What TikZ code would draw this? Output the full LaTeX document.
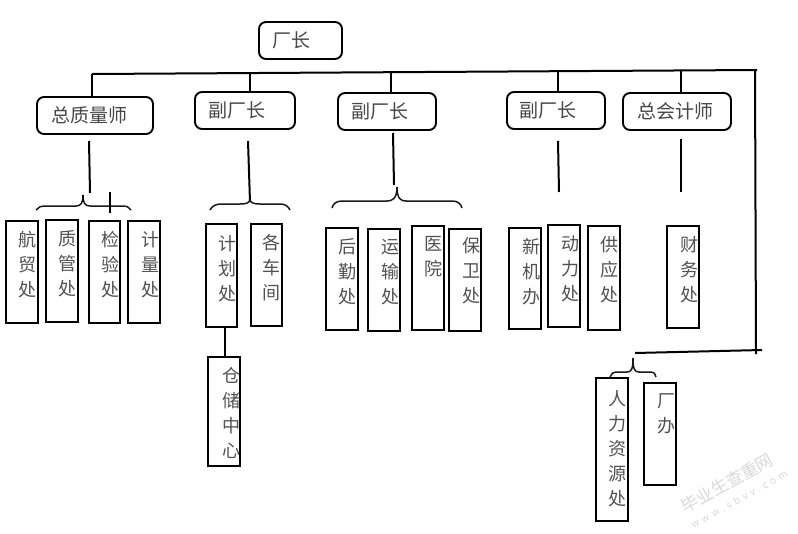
\documentclass[tikz,border=0pt]{standalone}
\usepackage{fontspec}
\setmainfont{Noto Sans CJK SC}
\tikzset{
 lead/.style={draw=black,line width=1.9pt,rounded corners=7pt,inner sep=0pt,outer sep=0pt,font=\fontsize{19}{22}\selectfont,text=black!72},
 unit/.style={draw=black,line width=2pt,inner sep=0pt,outer sep=0pt,anchor=north west},
 unittext/.style={font=\fontsize{18}{25}\selectfont,text=black!68,align=center,anchor=north,inner sep=0pt},
 conn/.style={line width=2pt,draw=black},
 brace/.style={line width=1.5pt,draw=black!90},
 mark1/.style={rotate=29,text=black!15,inner sep=0pt}
}
\newcommand{\rbox}[7]{\node[lead,minimum width=#4pt-#2pt,minimum height=#5pt-#3pt] (#1) at ({(#2+#4)/2},{(#3+#5)/2}) {\hspace*{#6pt}#7};}
\newcommand{\ubox}[8]{\node[unit,minimum width=#4pt-#2pt,minimum height=#5pt-#3pt] (#1) at (#2,#3) {};
 \node[unittext] (#1t) at (#6,#3+#7) {#8};}
\begin{document}
\begin{tikzpicture}[x=1pt,y=-1pt]
\useasboundingbox[fill=white] (0,0) rectangle (798,533);
\rbox{top}{259}{22}{342}{59}{-18}{厂长}
\rbox{a}{37}{97}{153}{134}{-12}{总质量师}
\rbox{b}{195}{92}{295}{129}{-16}{副厂长}
\rbox{c}{338}{93}{436}{130}{-14}{副厂长}
\rbox{d}{507}{92}{605}{129}{-16}{副厂长}
\rbox{e}{623}{93}{731}{130}{-4}{总会计师}
\ubox{a1}{6}{221}{38}{323}{27}{10}{航\\贸\\处}
\ubox{a2}{46}{220}{78}{322}{67}{10}{质\\管\\处}
\ubox{a3}{89}{221}{120}{323}{110}{10}{检\\验\\处}
\ubox{a4}{128}{221}{160}{323}{150}{10}{计\\量\\处}
\ubox{b1}{206}{224}{237}{327}{227}{11}{计\\划\\处}
\ubox{b2}{251}{224}{282}{326}{271}{10}{各\\车\\间}
\ubox{b3}{208}{357}{240}{466}{231}{10}{仓\\储\\中\\心}
\ubox{c1}{326}{228}{358}{330}{347}{10}{后\\勤\\处}
\ubox{c2}{368}{229}{400}{331}{390}{10}{运\\输\\处}
\ubox{c3}{412}{226}{444}{330}{433}{10}{医\\院}
\ubox{c4}{449}{229}{481}{331}{471}{8}{保\\卫\\处}
\ubox{d1}{509}{228}{541}{329}{531}{10}{新\\机\\办}
\ubox{d2}{548}{225}{580}{327}{570}{10}{动\\力\\处}
\ubox{d3}{588}{226}{620}{330}{609}{10}{供\\应\\处}
\ubox{e1}{667}{226}{699}{328}{689}{10}{财\\务\\处}
\ubox{f1}{596}{378}{628}{521}{617}{12}{人\\力\\资\\源\\处}
\ubox{f2}{644}{383}{676}{485}{666}{10}{厂\\办}
% bus and free ends
\coordinate (L) at (92,74); \coordinate (R) at (757,70);
\coordinate (bT) at (250,73.5); \coordinate (cT) at (391,73); \coordinate (dT) at (558,72); \coordinate (eT) at (681,71);
\coordinate (Vt) at (755,70); \coordinate (Vb) at (756,354);
\coordinate (Bl) at (635,353); \coordinate (Br) at (762,350);
\coordinate (As) at (89,141); \coordinate (Ra) at (90,193);
\coordinate (Bs) at (248,141); \coordinate (Rb) at (250,202);
\coordinate (Cs) at (393,133); \coordinate (Rc) at (394,185);
\coordinate (Ds) at (558,141); \coordinate (Rd) at (559,192);
\coordinate (Es) at (681,139); \coordinate (Re) at (681,192);
\draw[conn] (L) -- (R);
\draw[conn] (L) -- (L |- a.north);
\draw[conn] (bT) -- (bT |- b.north);
\draw[conn] (cT) -- (cT |- c.north);
\draw[conn] (dT) -- (dT |- d.north);
\draw[conn] (eT) -- (eT |- e.north);
\draw[conn] (Vt) -- (Vb);
\draw[conn] (Bl) -- (Br);
\draw[conn] (As) -- (Ra);
\draw[conn] (Bs) -- (Rb);
\draw[conn] (Cs) -- (Rc);
\draw[conn] (Ds) -- (Rd);
\draw[conn] (Es) -- (Re);
\coordinate (Bd) at (225,327);
\draw[conn] (Bd |- b1.south) -- (Bd |- b3.north);
% braces
\draw[brace] (36,210) .. controls (38,207) and (41,206) .. (46,206) -- (76,206) .. controls (81,206) and (83,203) .. (83,195) .. controls (83,203) and (85,206) .. (90,206) -- (122,206) .. controls (127,206) and (129,207) .. (131,210);
\draw[conn,line width=1.5pt] (83,195) -- (83,202);
\draw[conn,line width=1.3pt] (110,192) -- (110,213);
\draw[brace] (210,210) .. controls (212,206) and (216,204) .. (221,204) -- (240,204) .. controls (246,204) and (249,203) .. (250,200) .. controls (251,203) and (254,204) .. (260,204) -- (280,204) .. controls (285,204) and (288,206) .. (290,210);
\draw[brace] (332,208) .. controls (333,204) and (336,201) .. (342,201) -- (387,201) .. controls (392,201) and (397,199) .. (397,187) .. controls (397,199) and (401,201) .. (406,201) -- (452,201) .. controls (458,201) and (461,204) .. (462,208);
\draw[brace] (610,377) .. controls (611,374) and (613,372) .. (617,372) -- (627,372) .. controls (631,372) and (633,370) .. (633,358) .. controls (633,370) and (635,372) .. (639,372) -- (650,372) .. controls (654,372) and (656,374) .. (656,377);
% watermark
\node[mark1,font=\fontsize{17}{18}\selectfont] (wm1) at (727,483) {毕业生查重网};
\node[mark1,font=\fontsize{10}{11}\selectfont\addfontfeature{LetterSpace=35}] (wm2) at (739,499) {www.sbvv.com};
\end{tikzpicture}
\end{document}
